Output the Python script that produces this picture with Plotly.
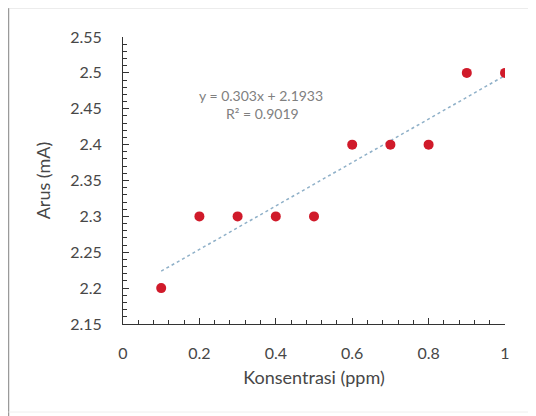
import plotly.graph_objects as go

konsentrasi = [0.1, 0.2, 0.3, 0.4, 0.5, 0.6, 0.7, 0.8, 0.9, 1.0]
arus = [2.2, 2.3, 2.3, 2.3, 2.3, 2.4, 2.4, 2.4, 2.5, 2.5]
slope = 0.303
intercept = 2.1933
r2 = 0.9019
x_ticks = [0, 0.2, 0.4, 0.6, 0.8, 1]
x_ticklabels = ["0", "0.2", "0.4", "0.6", "0.8", "1"]
y_ticks = [2.15, 2.2, 2.25, 2.3, 2.35, 2.4, 2.45, 2.5, 2.55]
y_ticklabels = ["2.15", "2.2", "2.25", "2.3", "2.35", "2.4", "2.45", "2.5", "2.55"]

trend_x = [konsentrasi[0], konsentrasi[-1]]
trend_y = [slope * v + intercept for v in trend_x]

FONT = "Lato"
GRAY = "#474747"

# screen geometry of plot area (page has 8px body margin)
PX0, PX1, PY0, PY1 = 123, 505, 37, 324
W = PX1 - PX0
H = PY1 - PY0


def px(x):
    return (x - PX0) / W


def py(y):
    return (PY1 - y) / H


fig = go.Figure()
fig.add_trace(go.Scatter(
    x=trend_x, y=trend_y, mode="lines",
    line=dict(color="#8fb0c8", width=1.5, dash="dot"),
    showlegend=False, hoverinfo="skip"))
fig.add_trace(go.Scatter(
    x=konsentrasi, y=arus, mode="markers",
    marker=dict(color="#d01a2a", size=10),
    showlegend=False))

fig.update_layout(
    width=536, height=416,
    margin=dict(l=PX0 - 8, r=536 - PX1 + 8, t=PY0 - 8, b=416 - PY1 + 8),
    paper_bgcolor="white", plot_bgcolor="white",
    font=dict(family=FONT, color=GRAY, size=16),
    xaxis=dict(
        range=[0, 1], tickmode="array", tickvals=x_ticks, ticktext=x_ticklabels,
        showgrid=False, zeroline=False, showline=True, linecolor="#333333", linewidth=1,
        ticks="inside", ticklen=6, tickcolor="#333333", tickwidth=1,
        minor=dict(tickmode="linear", tick0=0, dtick=0.04, ticks="inside",
                   ticklen=4, tickcolor="#333333", tickwidth=1, showgrid=False),
        ticklabelstandoff=15,
        title=dict(text="Konsentrasi (ppm)", font=dict(size=18, color=GRAY), standoff=10),
    ),
    yaxis=dict(
        range=[2.15, 2.55], tickmode="array", tickvals=y_ticks, ticktext=y_ticklabels,
        showgrid=False, zeroline=False, showline=True, linecolor="#333333", linewidth=1,
        ticks="inside", ticklen=6, tickcolor="#333333", tickwidth=1,
        minor=dict(tickmode="linear", tick0=2.15, dtick=0.01, ticks="inside",
                   ticklen=4, tickcolor="#333333", tickwidth=1, showgrid=False),
        ticklabelstandoff=17,
        title=dict(text="Arus (mA)", font=dict(size=18, color=GRAY), standoff=14),
    ),
    annotations=[
        dict(x=px(261), y=py(85), xref="paper", yref="paper",
             text=f"y = {slope}x + {intercept}", showarrow=False,
             font=dict(size=14, color="#808080")),
        dict(x=px(262), y=py(103), xref="paper", yref="paper",
             text=f"R² = {r2}", showarrow=False,
             font=dict(size=14, color="#808080")),
    ],
    shapes=[
        dict(type="line", xref="paper", yref="paper",
             x0=px(8.5), x1=px(8.5), y0=py(416), y1=py(8),
             line=dict(color="#9a9a9a", width=1.5)),
        dict(type="line", xref="paper", yref="paper",
             x0=px(8.5), x1=px(536), y0=py(8), y1=py(8),
             line=dict(color="#d9d9d9", width=1)),
        dict(type="line", xref="paper", yref="paper",
             x0=px(8.5), x1=px(536), y0=py(412), y1=py(412),
             line=dict(color="#eeeeee", width=1)),
    ],
)

fig.write_html("out.html")
